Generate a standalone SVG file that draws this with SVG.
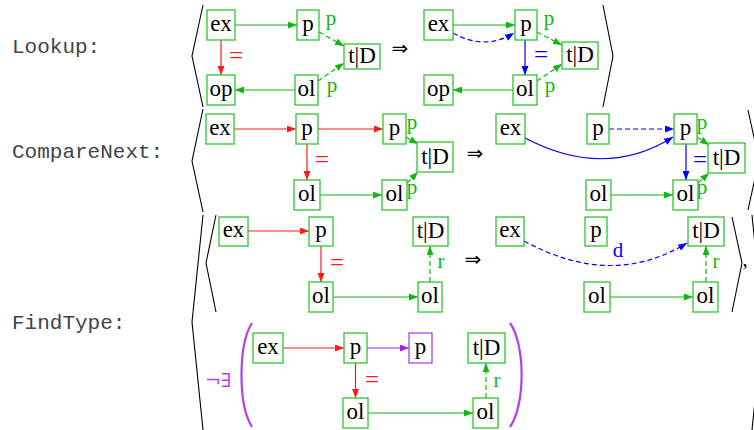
<svg xmlns="http://www.w3.org/2000/svg" width="754" height="430" viewBox="0 0 754 430">
<defs>
<style>
.n rect{fill:#fff;stroke:#2fc42f;stroke-width:1.3}
.pu rect{stroke:#b040f0}
.n text{font-family:"Liberation Serif",serif;font-size:23px;text-anchor:middle;fill:#000}
.lab{font-family:"Liberation Mono",monospace;font-size:21px;fill:#444}
.br{fill:none;stroke:#000;stroke-width:1.1}
.imp{font-family:"DejaVu Sans",sans-serif;font-size:20px;text-anchor:middle;fill:#000}
.e{fill:none;stroke-width:1.2}
.g{stroke:#10b810}
.r{stroke:#ff1a1a}
.b{stroke:#0000ff}
.p{stroke:#a020f0}
.d{stroke-dasharray:5,3}
.t{font-family:"Liberation Serif",serif;font-size:21px;text-anchor:middle}
.eq{font-size:25px}
.tg{fill:#10b810}
.tr{fill:#ff1a1a}
.tb{fill:#0000ff}
</style>
<marker id="mg" markerUnits="userSpaceOnUse" markerWidth="9" markerHeight="7" refX="9" refY="3.5" orient="auto"><path d="M0,0L9,3.5L0,7z" fill="#10b810"/></marker>
<marker id="mr" markerUnits="userSpaceOnUse" markerWidth="9" markerHeight="7" refX="9" refY="3.5" orient="auto"><path d="M0,0L9,3.5L0,7z" fill="#ff1a1a"/></marker>
<marker id="mb" markerUnits="userSpaceOnUse" markerWidth="9" markerHeight="7" refX="9" refY="3.5" orient="auto"><path d="M0,0L9,3.5L0,7z" fill="#0000ff"/></marker>
<marker id="mp" markerUnits="userSpaceOnUse" markerWidth="9" markerHeight="7" refX="9" refY="3.5" orient="auto"><path d="M0,0L9,3.5L0,7z" fill="#a020f0"/></marker>
</defs>
<rect width="754" height="430" fill="#fff"/>

<!-- rule labels -->
<text class="lab" x="12" y="53">Lookup:</text>
<text class="lab" x="12" y="158">CompareNext:</text>
<text class="lab" x="12" y="329">FindType:</text>

<!-- brackets -->
<g id="brackets">
<polyline class="br" points="203,5 192,56 203,107"/>
<polyline class="br" points="603,5 613,56 603,107"/>
<polyline class="br" points="203,109 192,161 203,212"/>
<polyline class="br" points="748,110 759,160 748,210"/>
<polyline class="br" points="203,215 192,322 203,430"/>
<polyline class="br" points="216,215 206,263 216,312"/>
<polyline class="br" points="732,217 742,263 732,312"/>
<polyline class="br" points="752,215 763,322 752,430"/>
<text x="745" y="266" font-family="Liberation Serif,serif" font-size="21" text-anchor="middle">,</text>
<path d="M252,323 C238,345 238,405 252,427" fill="none" stroke="#b040f0" stroke-width="2.2"/>
<path d="M510,323 C525.5,345 525.5,405 510,427" fill="none" stroke="#b040f0" stroke-width="2.2"/>
<text x="218" y="387" font-family="DejaVu Serif,serif" font-size="19" text-anchor="middle" fill="#b040f0">¬∃</text>
</g>

<text class="imp" x="400" y="55">⇒</text>
<text class="imp" x="475" y="160">⇒</text>
<text class="imp" x="473" y="266">⇒</text>

<!-- connectors -->
<g id="connectors">
<!-- row 1 left -->
<line class="e g" x1="235" y1="25" x2="297" y2="25" marker-end="url(#mg)"/>
<line class="e r" x1="221" y1="40" x2="221" y2="75" marker-end="url(#mr)"/>
<line class="e g" x1="295" y1="90" x2="235" y2="90" marker-end="url(#mg)"/>
<line class="e g d" x1="319" y1="32" x2="344" y2="46" marker-end="url(#mg)"/>
<line class="e g d" x1="318" y1="81" x2="344" y2="63" marker-end="url(#mg)"/>
<!-- row 1 right -->
<line class="e g" x1="453" y1="25" x2="515" y2="25" marker-end="url(#mg)"/>
<path class="e b d" d="M453,33 Q485,51 514,33" marker-end="url(#mb)"/>
<line class="e b" x1="525" y1="40" x2="525" y2="75" marker-end="url(#mb)"/>
<line class="e g" x1="513" y1="90" x2="453" y2="90" marker-end="url(#mg)"/>
<line class="e g d" x1="537" y1="32" x2="562" y2="45" marker-end="url(#mg)"/>
<line class="e g d" x1="537" y1="81" x2="562" y2="64" marker-end="url(#mg)"/>
<!-- row 2 left -->
<line class="e r" x1="234" y1="129" x2="296" y2="129" marker-end="url(#mr)"/>
<line class="e r" x1="318" y1="129" x2="383" y2="129" marker-end="url(#mr)"/>
<line class="e r" x1="307" y1="144" x2="307" y2="180" marker-end="url(#mr)"/>
<line class="e g" x1="320" y1="195" x2="382" y2="195" marker-end="url(#mg)"/>
<line class="e g d" x1="406" y1="137" x2="418" y2="144" marker-end="url(#mg)"/>
<line class="e g d" x1="407" y1="183" x2="418" y2="172" marker-end="url(#mg)"/>
<!-- row 2 right -->
<line class="e b d" x1="609" y1="129" x2="674" y2="129" marker-end="url(#mb)"/>
<path class="e b" d="M525,138 Q605,180 673,137" marker-end="url(#mb)"/>
<line class="e b" x1="686" y1="144" x2="686" y2="180" marker-end="url(#mb)"/>
<line class="e g" x1="611" y1="195" x2="673" y2="195" marker-end="url(#mg)"/>
<line class="e g d" x1="697" y1="137" x2="709" y2="145" marker-end="url(#mg)"/>
<line class="e g d" x1="698" y1="183" x2="709" y2="173" marker-end="url(#mg)"/>
<!-- row 3 left -->
<line class="e r" x1="248" y1="231" x2="309" y2="231" marker-end="url(#mr)"/>
<line class="e r" x1="321" y1="246" x2="321" y2="282" marker-end="url(#mr)"/>
<line class="e g" x1="333" y1="297" x2="418" y2="297" marker-end="url(#mg)"/>
<line class="e g d" x1="430" y1="282" x2="430" y2="246" marker-end="url(#mg)"/>
<!-- row 3 right -->
<path class="e b d" d="M524,241 Q612,289 687,243" marker-end="url(#mb)"/>
<line class="e g" x1="610" y1="297" x2="693" y2="297" marker-end="url(#mg)"/>
<line class="e g d" x1="706" y1="282" x2="706" y2="246" marker-end="url(#mg)"/>
<!-- row 4 -->
<line class="e r" x1="283" y1="348" x2="344" y2="348" marker-end="url(#mr)"/>
<line class="e p" x1="367" y1="348" x2="409" y2="348" marker-end="url(#mp)"/>
<line class="e r" x1="355.5" y1="363" x2="355.5" y2="398" marker-end="url(#mr)"/>
<line class="e g" x1="368" y1="413" x2="473" y2="413" marker-end="url(#mg)"/>
<line class="e g d" x1="486" y1="398" x2="486" y2="363" marker-end="url(#mg)"/>

<!-- labels -->
<text class="t eq tr" x="236" y="64">=</text>
<text class="t tg" x="331" y="25">p</text>
<text class="t tg" x="332" y="92">p</text>
<text class="t eq tb" x="541" y="63">=</text>
<text class="t tg" x="549" y="25">p</text>
<text class="t tg" x="550" y="92">p</text>
<text class="t eq tr" x="322" y="168">=</text>
<text class="t tg" x="412" y="129">p</text>
<text class="t tg" x="412" y="194">p</text>
<text class="t eq tb" x="700" y="168">=</text>
<text class="t tg" x="702" y="129">p</text>
<text class="t tg" x="702" y="194">p</text>
<text class="t eq tr" x="337" y="271">=</text>
<text class="t tg" x="441" y="268">r</text>
<text class="t tb" x="618" y="257">d</text>
<text class="t tg" x="716" y="268">r</text>
<text class="t eq tr" x="372" y="388">=</text>
<text class="t tg" x="497" y="387">r</text>
</g>

<!-- nodes row 1 left -->
<g id="l1_ex" class="n"><rect x="207" y="10" width="28" height="30"/><text x="221" y="31">ex</text></g>
<g id="l1_p" class="n"><rect x="297" y="10" width="22" height="30"/><text x="308" y="31">p</text></g>
<g id="l1_tD" class="n"><rect x="344" y="44" width="36" height="25"/><text x="362" y="63">t|D</text></g>
<g id="l1_op" class="n"><rect x="207" y="75" width="28" height="30"/><text x="221" y="96">op</text></g>
<g id="l1_ol" class="n"><rect x="295" y="75" width="23" height="30"/><text x="306.5" y="96">ol</text></g>
<!-- row 1 right -->
<g id="r1_ex" class="n"><rect x="424" y="10" width="29" height="30"/><text x="438.5" y="31">ex</text></g>
<g id="r1_p" class="n"><rect x="515" y="10" width="22" height="30"/><text x="526" y="31">p</text></g>
<g id="r1_tD" class="n"><rect x="562" y="42" width="36" height="27"/><text x="580" y="62">t|D</text></g>
<g id="r1_op" class="n"><rect x="424" y="75" width="29" height="30"/><text x="438.5" y="96">op</text></g>
<g id="r1_ol" class="n"><rect x="513" y="75" width="24" height="30"/><text x="525" y="96">ol</text></g>
<!-- row 2 left -->
<g id="l2_ex" class="n"><rect x="206" y="114" width="28" height="30"/><text x="220" y="135">ex</text></g>
<g id="l2_p" class="n"><rect x="296" y="114" width="22" height="30"/><text x="307" y="135">p</text></g>
<g id="l2_p2" class="n"><rect x="383" y="114" width="23" height="30"/><text x="394.5" y="135">p</text></g>
<g id="l2_tD" class="n"><rect x="417" y="142" width="36" height="30"/><text x="435" y="164">t|D</text></g>
<g id="l2_ol" class="n"><rect x="294" y="180" width="26" height="30"/><text x="307" y="201">ol</text></g>
<g id="l2_ol2" class="n"><rect x="382" y="180" width="25" height="30"/><text x="394.5" y="201">ol</text></g>
<!-- row 2 right -->
<g id="r2_ex" class="n"><rect x="496" y="114" width="29" height="30"/><text x="510.5" y="135">ex</text></g>
<g id="r2_p" class="n"><rect x="587" y="114" width="22" height="30"/><text x="598" y="135">p</text></g>
<g id="r2_p2" class="n"><rect x="674" y="114" width="23" height="30"/><text x="685.5" y="135">p</text></g>
<g id="r2_tD" class="n"><rect x="708" y="143" width="37" height="30"/><text x="726.5" y="165">t|D</text></g>
<g id="r2_ol" class="n"><rect x="586" y="180" width="25" height="30"/><text x="598.5" y="201">ol</text></g>
<g id="r2_ol2" class="n"><rect x="673" y="180" width="25" height="30"/><text x="685.5" y="201">ol</text></g>
<!-- row 3 left -->
<g id="l3_ex" class="n"><rect x="219" y="217" width="29" height="29"/><text x="233.5" y="237">ex</text></g>
<g id="l3_p" class="n"><rect x="309" y="217" width="24" height="29"/><text x="321" y="237">p</text></g>
<g id="l3_tD" class="n"><rect x="413" y="217" width="35" height="29"/><text x="430.5" y="238">t|D</text></g>
<g id="l3_ol" class="n"><rect x="309" y="282" width="24" height="30"/><text x="321" y="303">ol</text></g>
<g id="l3_ol2" class="n"><rect x="418" y="282" width="24" height="30"/><text x="430" y="303">ol</text></g>
<!-- row 3 right -->
<g id="r3_ex" class="n"><rect x="496" y="217" width="28" height="29"/><text x="510" y="237">ex</text></g>
<g id="r3_p" class="n"><rect x="585" y="217" width="22" height="29"/><text x="596" y="237">p</text></g>
<g id="r3_tD" class="n"><rect x="688" y="217" width="36" height="29"/><text x="706" y="238">t|D</text></g>
<g id="r3_ol" class="n"><rect x="584" y="282" width="26" height="30"/><text x="597" y="303">ol</text></g>
<g id="r3_ol2" class="n"><rect x="693" y="282" width="25" height="30"/><text x="705.5" y="303">ol</text></g>
<!-- row 4 -->
<g id="n4_ex" class="n"><rect x="253" y="333" width="30" height="30"/><text x="268" y="354">ex</text></g>
<g id="n4_p" class="n"><rect x="344" y="333" width="23" height="30"/><text x="355.5" y="354">p</text></g>
<g id="n4_pp" class="n pu"><rect x="409" y="333" width="23" height="30"/><text x="420.5" y="354">p</text></g>
<g id="n4_tD" class="n"><rect x="468" y="333" width="37" height="30"/><text x="486.5" y="355">t|D</text></g>
<g id="n4_ol" class="n"><rect x="343" y="398" width="25" height="30"/><text x="355.5" y="419">ol</text></g>
<g id="n4_ol2" class="n"><rect x="473" y="398" width="25" height="30"/><text x="485.5" y="419">ol</text></g>
</svg>
